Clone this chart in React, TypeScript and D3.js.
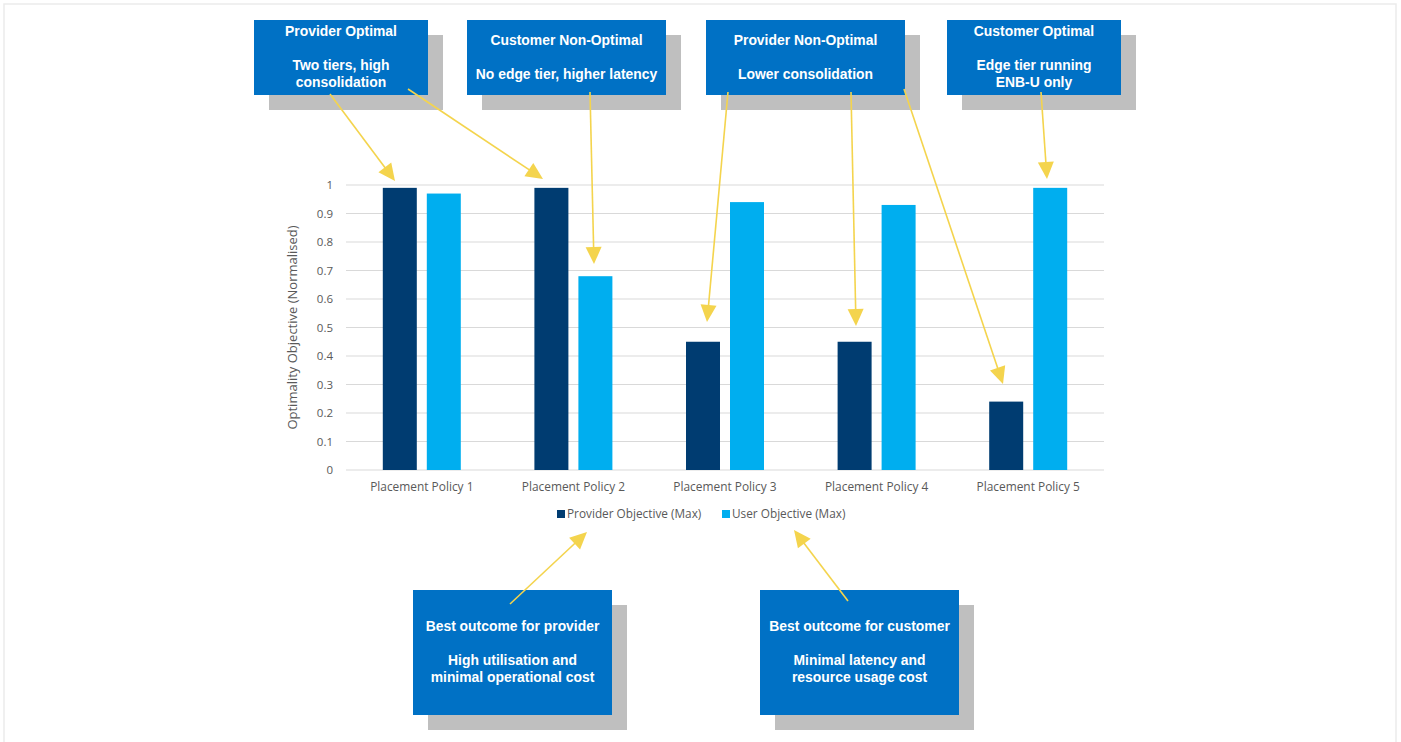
import React from "react";
import * as d3 from "d3";

// Chart data
const categories = [
  "Placement Policy 1",
  "Placement Policy 2",
  "Placement Policy 3",
  "Placement Policy 4",
  "Placement Policy 5",
];
const providerValues = [0.99, 0.99, 0.45, 0.45, 0.24];
const userValues = [0.97, 0.68, 0.94, 0.93, 0.99];
const seriesNames = ["Provider Objective (Max)", "User Objective (Max)"];
const yTicks = [0, 0.1, 0.2, 0.3, 0.4, 0.5, 0.6, 0.7, 0.8, 0.9, 1];
const yTitle = "Optimality Objective (Normalised)";

const DARK = "#003C71";
const LIGHT = "#00AEEF";
const CALLOUT = "#0071C5";
const SHADOW = "#BFBFBF";
const ARROW = "#F4D44D";
const GRID = "#D9D9D9";
const TEXT = "#595959";
const AXIS_FONT = "'Open Sans', 'Noto Sans', sans-serif";
const CALLOUT_FONT = "'Liberation Sans', Arial, sans-serif";

// Callout boxes: rect + text lines (blank string = spacer line)
const callouts = [
  { x: 254, y: 20, w: 174, h: 75, lines: ["Provider Optimal", "", "Two tiers, high", "consolidation"], top: 31 },
  { x: 467, y: 20, w: 199, h: 75, lines: ["Customer Non-Optimal", "", "No edge tier, higher latency"], top: 40 },
  { x: 706, y: 20, w: 199, h: 75, lines: ["Provider Non-Optimal", "", "Lower consolidation"], top: 40 },
  { x: 947, y: 20, w: 174, h: 75, lines: ["Customer Optimal", "", "Edge tier running", "ENB-U only"], top: 31 },
  { x: 413, y: 590, w: 199, h: 125, lines: ["Best outcome for provider", "", "High utilisation and", "minimal operational cost"], top: 626 },
  { x: 760, y: 590, w: 199, h: 125, lines: ["Best outcome for customer", "", "Minimal latency and", "resource usage cost"], top: 626 },
];

// Arrow annotations: start -> tip
const arrows = [
  { x1: 330, y1: 94, x2: 395, y2: 181 },
  { x1: 408, y1: 89, x2: 543, y2: 179 },
  { x1: 590, y1: 92, x2: 594, y2: 264 },
  { x1: 728, y1: 92, x2: 707, y2: 322 },
  { x1: 851, y1: 92, x2: 856, y2: 326 },
  { x1: 904, y1: 89, x2: 1003, y2: 384 },
  { x1: 1041, y1: 92, x2: 1047, y2: 179 },
  { x1: 510, y1: 604, x2: 587, y2: 532 },
  { x1: 848, y1: 601, x2: 794, y2: 530 },
];

function Arrow({ x1, y1, x2, y2 }: { x1: number; y1: number; x2: number; y2: number }) {
  const dx = x2 - x1;
  const dy = y2 - y1;
  const len = Math.hypot(dx, dy);
  const ux = dx / len;
  const uy = dy / len;
  const headLen = 17;
  const headHalf = 8;
  const bx = x2 - ux * headLen;
  const by = y2 - uy * headLen;
  const px = -uy;
  const py = ux;
  const pts = [
    [x2, y2],
    [bx + px * headHalf, by + py * headHalf],
    [bx - px * headHalf, by - py * headHalf],
  ];
  return (
    <g>
      <line x1={x1} y1={y1} x2={bx + ux * 2} y2={by + uy * 2} stroke={ARROW} strokeWidth={1.6} />
      <polygon points={pts.map((p) => p.join(",")).join(" ")} fill={ARROW} />
    </g>
  );
}

export default function App() {
  const width = 1401;
  const height = 742;
  const plotLeft = 346;
  const plotRight = 1104;
  const plotTop = 185;
  const plotBottom = 470;

  const x = d3.scaleBand<string>().domain(categories).range([plotLeft, plotRight]).padding(0);
  const y = d3.scaleLinear().domain([0, 1]).range([plotBottom, plotTop]);
  const barW = 34;
  const gap = 10;

  const series = [
    { name: seriesNames[0], values: providerValues, color: DARK, offset: -gap / 2 - barW },
    { name: seriesNames[1], values: userValues, color: LIGHT, offset: gap / 2 },
  ];

  return (
    <svg
      width={width}
      height={height}
      style={{ position: "absolute", left: 0, top: 0, background: "#fff" }}
    >
      {/* outer frame */}
      <rect x={4} y={4} width={1392} height={760} fill="none" stroke="#EBEBEB" strokeWidth={1.5} />

      {/* gridlines */}
      {yTicks.map((t) => (
        <line key={t} x1={plotLeft} x2={plotRight} y1={y(t)} y2={y(t)} stroke={GRID} strokeWidth={1} />
      ))}

      {/* y tick labels */}
      {yTicks.map((t) => (
        <text
          key={"l" + t}
          x={333}
          y={y(t)}
          dy="0.35em"
          textAnchor="end"
          fontFamily={AXIS_FONT}
          fontSize={11.5}
          fill={TEXT}
        >
          {d3.format("~g")(t)}
        </text>
      ))}

      {/* y title */}
      <text
        transform={`translate(297,${(plotTop + plotBottom) / 2}) rotate(-90)`}
        textAnchor="middle"
        fontFamily={AXIS_FONT}
        fontSize={13}
        fill={TEXT}
      >
        {yTitle}
      </text>

      {/* bars */}
      {series.map((s) =>
        categories.map((c, i) => {
          const cx = (x(c) as number) + x.bandwidth() / 2;
          return (
            <rect
              key={s.name + c}
              x={cx + s.offset}
              y={y(s.values[i])}
              width={barW}
              height={plotBottom - y(s.values[i])}
              fill={s.color}
            />
          );
        })
      )}

      {/* category labels */}
      {categories.map((c) => (
        <text
          key={"c" + c}
          x={(x(c) as number) + x.bandwidth() / 2}
          y={491}
          textAnchor="middle"
          fontFamily={AXIS_FONT}
          fontSize={11.9}
          fill={TEXT}
        >
          {c}
        </text>
      ))}

      {/* legend */}
      <g fontFamily={AXIS_FONT} fontSize={11.8} fill={TEXT}>
        <rect x={557} y={510} width={8} height={8} fill={DARK} />
        <text x={567} y={518}>{seriesNames[0]}</text>
        <rect x={722} y={510} width={8} height={8} fill={LIGHT} />
        <text x={732} y={518}>{seriesNames[1]}</text>
      </g>

      {/* callouts */}
      {callouts.map((b, i) => (
        <g key={"b" + i}>
          <rect x={b.x + 15} y={b.y + 15} width={b.w} height={b.h} fill={SHADOW} />
          <rect x={b.x} y={b.y} width={b.w} height={b.h} fill={CALLOUT} />
          {b.lines.map((ln, j) =>
            ln ? (
              <text
                key={j}
                x={b.x + b.w / 2}
                y={b.top + j * 17}
                dy="0.35em"
                textAnchor="middle"
                fontFamily={CALLOUT_FONT}
                fontWeight="bold"
                fontSize={13.9}
                fill="#fff"
              >
                {ln}
              </text>
            ) : null
          )}
        </g>
      ))}

      {/* arrows */}
      {arrows.map((a, i) => (
        <Arrow key={"a" + i} {...a} />
      ))}
    </svg>
  );
}
